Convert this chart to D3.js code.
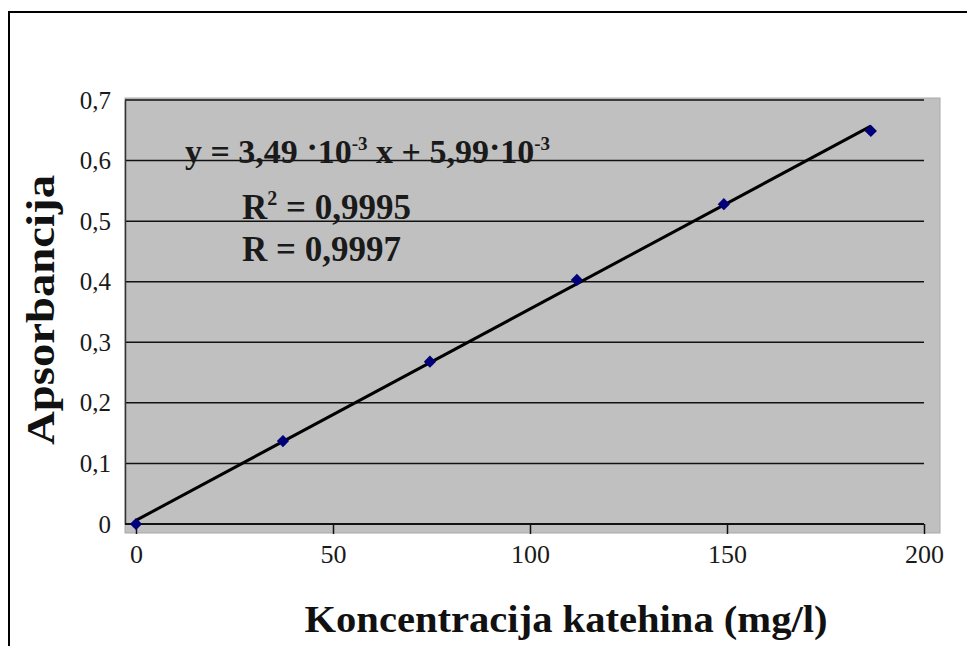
<!DOCTYPE html>
<html><head><meta charset="utf-8">
<script src="https://cdn.jsdelivr.net/npm/d3@7"></script>
<style>
html,body{margin:0;padding:0;background:#fff;}
svg{display:block;}
text{font-family:"Liberation Serif","Times New Roman",serif;}
</style></head>
<body>
<svg id="c" width="967" height="646"></svg>
<script>
// Data
const concentration = [0, 37.3, 74.6, 111.9, 149.2, 186.5];
const absorbance = [0, 0.137, 0.268, 0.403, 0.528, 0.649];
const slope = 3.49e-3;
const intercept = 5.99e-3;
const xTicks = [0, 50, 100, 150, 200];
const yTicks = [0, 0.1, 0.2, 0.3, 0.4, 0.5, 0.6, 0.7];
const xTitle = "Koncentracija katehina (mg/l)";
const yTitle = "Apsorbancija";

(function () {
const SERIF = '"Liberation Serif","Times New Roman",serif';
const svg = d3.select("#c");
const x = d3.scaleLinear().domain([0, 200]).range([136, 924]);
const y = d3.scaleLinear().domain([0, 0.7]).range([524, 100]);
const fmt = d => d3.format(".1f")(d).replace(".", ",").replace(/^0,0$/, "0");

// outer border
svg.append("path").attr("d", "M9,646V12H967").attr("fill", "none").attr("stroke", "#000").attr("stroke-width", 2);

// plot area
const pL = 125, pR = 940, pT = 98, pB = 533;
svg.append("rect").attr("x", pL).attr("y", pT).attr("width", pR - pL).attr("height", pB - pT)
  .attr("fill", "#c0c0c0").attr("stroke", "#a8a8a8").attr("stroke-width", 1);

// gridlines
svg.append("g").selectAll("line").data(yTicks.filter(d => d > 0)).join("line")
  .attr("x1", pL).attr("x2", x(200)).attr("y1", d => y(d)).attr("y2", d => y(d))
  .attr("stroke", "#111").attr("stroke-width", 1.5);

// y axis
const yAxis = d3.axisLeft(y).tickValues(yTicks).tickFormat(fmt).tickSize(0).tickPadding(14);
const gy = svg.append("g").attr("transform", `translate(${pL},0)`).call(yAxis)
  .attr("font-family", SERIF).attr("font-size", 25);
gy.select(".domain").attr("stroke", "#333").attr("stroke-width", 1.5);
gy.selectAll("text").attr("fill", "#1a1a1a");

// x axis
const xAxis = d3.axisBottom(x).tickValues(xTicks).tickFormat(d3.format("d")).tickSize(10).tickPadding(4);
const gx = svg.append("g").attr("transform", `translate(0,${y(0)})`).call(xAxis)
  .attr("font-family", SERIF).attr("font-size", 26);
gx.select(".domain").attr("d", `M${pL},0H${x(200)}`).attr("stroke", "#111").attr("stroke-width", 2);
gx.selectAll(".tick line").attr("stroke", "#111").attr("stroke-width", 1.5);
gx.selectAll("text").attr("fill", "#1a1a1a").attr("dy", "0.95em");

// trend line
const xs = [0, d3.max(concentration)];
svg.append("line")
  .attr("x1", x(xs[0])).attr("y1", y(slope * xs[0] + intercept))
  .attr("x2", x(xs[1])).attr("y2", y(slope * xs[1] + intercept))
  .attr("stroke", "#000").attr("stroke-width", 3);

// points
const pts = concentration.map((c, i) => [c, absorbance[i]]);
svg.append("g").selectAll("path").data(pts).join("path")
  .attr("d", d3.symbol().type(d3.symbolSquare).size(75))
  .attr("transform", d => `translate(${x(d[0])},${y(d[1])}) rotate(45)`)
  .attr("fill", "#00007a");

// equation text
const eq = svg.append("text").attr("x", 185).attr("y", 163).attr("font-size", 34).attr("font-weight", "bold").attr("fill", "#1a1a1a");
eq.append("tspan").text("y = 3,49 ");
eq.append("tspan").attr("dy", -5).text("·");
eq.append("tspan").attr("dy", 5).text("10");
eq.append("tspan").attr("dy", -13).attr("font-size", 19).text("-3");
eq.append("tspan").attr("dy", 13).text(" x + 5,99");
eq.append("tspan").attr("dy", -5).text("·");
eq.append("tspan").attr("dy", 5).text("10");
eq.append("tspan").attr("dy", -13).attr("font-size", 19).text("-3");

const r2 = svg.append("text").attr("x", 242).attr("y", 219).attr("font-size", 35).attr("font-weight", "bold").attr("fill", "#1a1a1a");
r2.append("tspan").text("R");
r2.append("tspan").attr("dy", -14).attr("font-size", 20).text("2");
r2.append("tspan").attr("dy", 14).text(" = 0,9995");

svg.append("text").attr("x", 242).attr("y", 261).attr("font-size", 35).attr("font-weight", "bold").attr("fill", "#1a1a1a")
  .text("R = 0,9997");

// axis titles
svg.append("text").attr("x", 566).attr("y", 632).attr("text-anchor", "middle")
  .attr("font-size", 38).attr("font-weight", "bold").attr("fill", "#111")
  .attr("textLength", 523).attr("lengthAdjust", "spacingAndGlyphs").text(xTitle);

svg.append("text").attr("transform", "translate(54,310) rotate(-90)").attr("text-anchor", "middle")
  .attr("font-size", 40).attr("font-weight", "bold").attr("fill", "#111")
  .attr("textLength", 270).attr("lengthAdjust", "spacingAndGlyphs").text(yTitle);
})();
</script>
</body></html>
